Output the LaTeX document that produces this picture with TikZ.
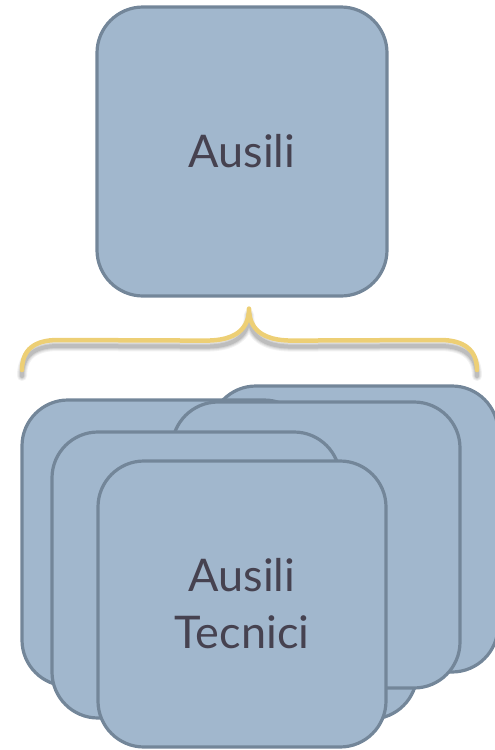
\documentclass[tikz,border=0pt]{standalone}
\usepackage{fontspec}
\setmainfont{Lato}
\usepackage{tikz}
\usetikzlibrary{positioning, calc}

\definecolor{cardfill}{RGB}{161,183,205}
\definecolor{cardline}{RGB}{115,134,153}
\definecolor{cardtext}{RGB}{70,66,80}
\definecolor{bracecol}{RGB}{237,207,117}

\begin{document}
\begin{tikzpicture}[
        x=1pt, y=-1pt,
        card/.style={rectangle, draw=cardline, fill=cardfill, line width=3.2pt, rounded corners=46pt, minimum width=288pt, minimum height=286pt, inner sep=0pt, align=center, text=cardtext, font=\fontsize{45}{57}\selectfont},
        topcard/.style={card, minimum width=290pt, minimum height=289pt},
        brace/.style={draw=bracecol, line width=4.5pt, line cap=round, line join=round},
        braceshadow/.style={draw=black, line cap=round, line join=round, transform canvas={yshift=-6pt}}
    ]
        \useasboundingbox (0,0) rectangle (495,750);

        % 1. Top box
        \node (ausili) [topcard] at (242,151.5) {Ausili};

        % 2. Stack of cards (back to front)
        \node (cardA) [card] at (354,529) {};
        \node (cardF) [card] at (273,576) {};
        \node (cardB) [card] at (166,543) {};
        \node (cardC) [card] at (316,545) {};
        \node (cardD) [card] at (196,575) {};
        \node (tecnici) [card] at (242,604) {Ausili\\Tecnici};

        % Brace end points
        \coordinate (tip) at ($(ausili.south)+(7,11)$);
        \coordinate (bl) at (22,370);
        \coordinate (br) at (477,370);

        % 3. Brace with soft shadow
        \foreach \w/\o in {10/0.05, 8/0.06, 6/0.08, 4/0.1} {
            \draw [braceshadow, line width=\w pt, opacity=\o] (bl) .. controls ($(bl)+(0,-20)$) and ($(bl)+(12,-30)$) .. ($(bl)+(36,-30)$) -- ($(tip)+(-43,32)$) .. controls ($(tip)+(-13,32)$) and ($(tip)+(0,20)$) .. (tip) .. controls ($(tip)+(0,20)$) and ($(tip)+(13,32)$) .. ($(tip)+(43,32)$) -- ($(br)+(-37,-30)$) .. controls ($(br)+(-13,-30)$) and ($(br)+(0,-20)$) .. (br);
        }
        \draw [brace] (bl) .. controls ($(bl)+(0,-20)$) and ($(bl)+(12,-30)$) .. ($(bl)+(36,-30)$) -- ($(tip)+(-43,32)$) .. controls ($(tip)+(-13,32)$) and ($(tip)+(0,20)$) .. (tip) .. controls ($(tip)+(0,20)$) and ($(tip)+(13,32)$) .. ($(tip)+(43,32)$) -- ($(br)+(-37,-30)$) .. controls ($(br)+(-13,-30)$) and ($(br)+(0,-20)$) .. (br);
    \end{tikzpicture}
\end{document}
